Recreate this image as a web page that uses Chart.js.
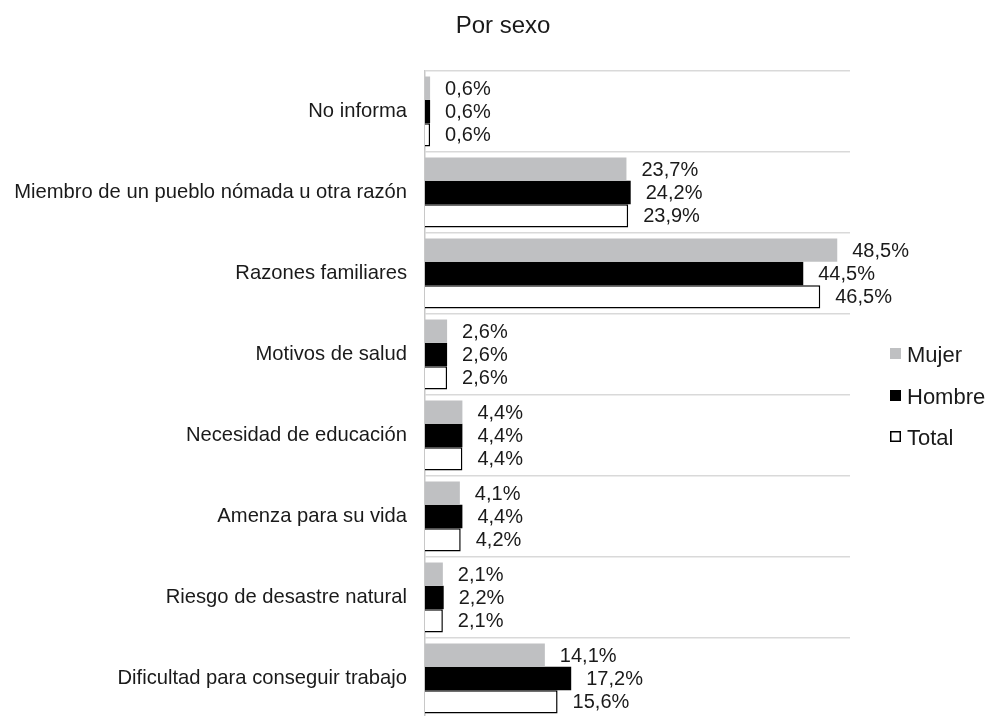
<!DOCTYPE html>
<html>
<head>
<meta charset="utf-8">
<script src="https://cdn.jsdelivr.net/npm/chart.js@4.4.1/dist/chart.umd.min.js"></script>
<style>
  html, body { margin: 0; padding: 0; background: #fff; overflow: hidden; }
  #wrap { width: 989px; height: 720px; }
</style>
</head>
<body>
<div id="wrap"><canvas id="c" width="989" height="720"></canvas></div>
<script>
const categories = [
  "No informa",
  "Miembro de un pueblo nómada u otra razón",
  "Razones familiares",
  "Motivos de salud",
  "Necesidad de educación",
  "Amenza para su vida",
  "Riesgo de desastre natural",
  "Dificultad para conseguir trabajo"
];
const seriesNames = ["Mujer", "Hombre", "Total"];
const mujer  = [0.6, 23.7, 48.5, 2.6, 4.4, 4.1, 2.1, 14.1];
const hombre = [0.6, 24.2, 44.5, 2.6, 4.4, 4.4, 2.2, 17.2];
const total  = [0.6, 23.9, 46.5, 2.6, 4.4, 4.2, 2.1, 15.6];
const titleText = "Por sexo";

const FONT = "'Liberation Sans', Arial, sans-serif";
const TXT = "#1a1a1a";

function fmt(v) { return v.toFixed(1).replace('.', ',') + '%'; }

const dataLabels = {
  id: 'dataLabels',
  afterDatasetsDraw(chart) {
    const ctx = chart.ctx;
    ctx.save();
    ctx.font = "20px " + FONT;
    ctx.fillStyle = TXT;
    ctx.textAlign = 'left';
    ctx.textBaseline = 'middle';
    chart.data.datasets.forEach((ds, di) => {
      const meta = chart.getDatasetMeta(di);
      meta.data.forEach((el, i) => {
        ctx.fillText(fmt(ds.data[i]), el.x + 15, el.y + 1);
      });
    });
    ctx.restore();
  }
};

const titleAndLegend = {
  id: 'titleAndLegend',
  afterDraw(chart) {
    const ctx = chart.ctx;
    ctx.save();
    // title
    ctx.font = "24px " + FONT;
    ctx.fillStyle = TXT;
    ctx.textAlign = 'center';
    ctx.textBaseline = 'alphabetic';
    ctx.fillText(titleText, 503, 33);
    // legend
    ctx.font = "22px " + FONT;
    ctx.textAlign = 'left';
    const ys = [353.5, 395.5, 436.5];
    chart.data.datasets.forEach((ds, di) => {
      const y = ys[di];
      const bx = 890, bs = 11;
      ctx.fillStyle = ds.backgroundColor;
      ctx.fillRect(bx, y - bs / 2, bs, bs);
      if (ds.borderWidth) {
        ctx.strokeStyle = ds.borderColor;
        ctx.lineWidth = 1.5;
        ctx.strokeRect(bx + 0.75, y - bs / 2 + 0.75, bs - 1.5, bs - 1.5);
      }
      ctx.fillStyle = TXT;
      ctx.fillText(ds.label, 907, y + 8);
    });
    ctx.restore();
  }
};

new Chart(document.getElementById('c'), {
  type: 'bar',
  data: {
    labels: categories,
    datasets: [
      { label: seriesNames[0], data: mujer, backgroundColor: '#bfc0c2', borderWidth: 0 },
      { label: seriesNames[1], data: hombre, backgroundColor: '#000000', borderWidth: 0 },
      { label: seriesNames[2], data: total, backgroundColor: '#ffffff', borderColor: '#000000', borderWidth: 1.5 }
    ]
  },
  options: {
    indexAxis: 'y',
    responsive: false,
    animation: false,
    devicePixelRatio: 1,
    categoryPercentage: 0.864,
    barPercentage: 1.0,
    layout: { padding: { left: 0, right: 139, top: 71, bottom: 1 } },
    scales: {
      x: {
        display: false,
        min: 0,
        max: 50,
        grid: { display: false }
      },
      y: {
        grid: { display: true, offset: true, color: '#d9d9d9', lineWidth: 1.5, drawTicks: false },
        border: { display: true, color: '#c8c8c8', width: 1.5 },
        ticks: { color: TXT, font: { family: FONT, size: 20.2 }, padding: 18 },
        afterFit(scale) {
          scale.width = 425;
          scale.paddingTop = 0;
          scale.paddingBottom = 0;
        }
      }
    },
    plugins: {
      legend: { display: false },
      tooltip: { enabled: false },
      title: { display: false }
    }
  },
  plugins: [dataLabels, titleAndLegend]
});
</script>
</body>
</html>
